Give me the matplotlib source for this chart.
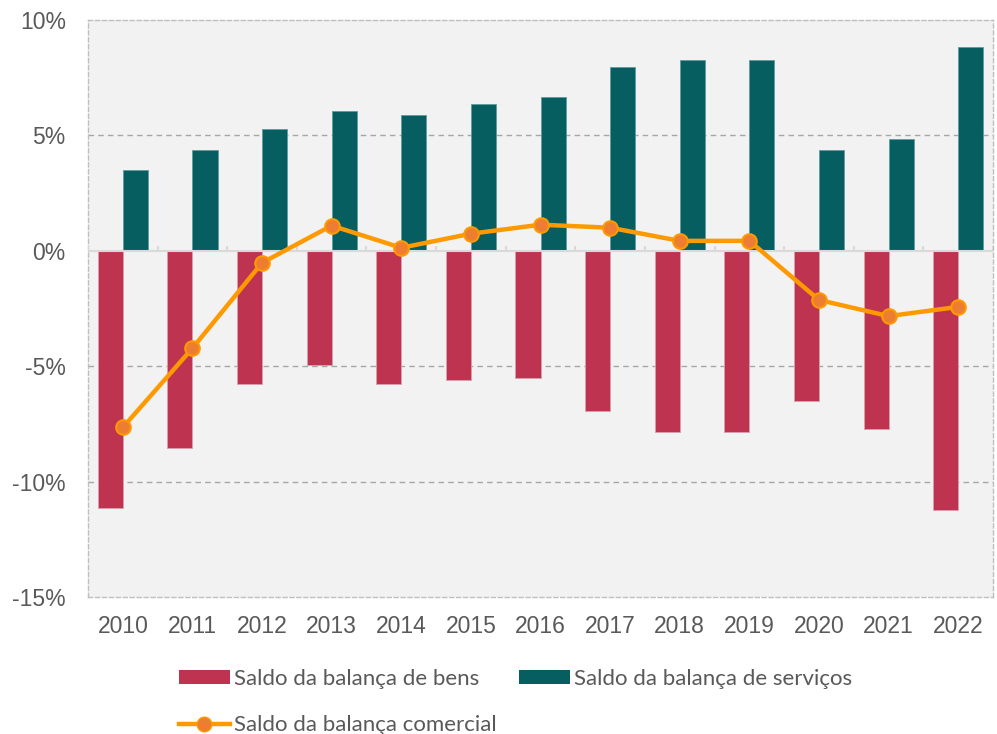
import numpy as np
import matplotlib
matplotlib.use("Agg")
from matplotlib import pyplot as plt
from matplotlib.lines import Line2D
from matplotlib.patches import Patch

plt.rcParams["font.family"] = ["Liberation Sans", "DejaVu Sans"]

years = ["2010", "2011", "2012", "2013", "2014", "2015", "2016",
         "2017", "2018", "2019", "2020", "2021", "2022"]
bens = [-11.15, -8.55, -5.78, -4.96, -5.78, -5.6, -5.52,
        -6.96, -7.83, -7.83, -6.52, -7.7, -11.25]
servicos = [3.48, 4.35, 5.26, 6.04, 5.9, 6.35, 6.65,
            7.96, 8.26, 8.26, 4.35, 4.83, 8.83]
comercial = [-7.65, -4.22, -0.52, 1.09, 0.13, 0.74, 1.13,
             1.0, 0.43, 0.43, -2.13, -2.83, -2.43]
yticks = [-15, -10, -5, 0, 5, 10]

red = "#be3350"
teal = "#065e60"
orange = "#ff9900"
marker_face = "#ed7d31"
txt = "#595959"

fig = plt.figure(figsize=(9.97, 7.34), dpi=100)
ax = fig.add_axes([0.0883, 0.1866, 0.9077, 0.7862])
ax.set_facecolor("#f2f2f2")

x = np.arange(len(years))
w = 0.36
ax.bar(x - w / 2, bens, w, color=red, edgecolor="#d9a0ac", linewidth=0.6, zorder=3)
ax.bar(x + w / 2, servicos, w, color=teal, edgecolor="#5e9c9e", linewidth=0.6, zorder=3)
ax.plot(x, comercial, color=orange, lw=3.2, marker="o", ms=10.5,
        mfc=marker_face, mec=orange, mew=1.5, zorder=5)

# zero line with small category ticks
ax.axhline(0, color="#d9d9d9", lw=1.5, zorder=4)
ax.vlines(np.arange(len(years) + 1) - 0.5, 0, 0.2, color="#d9d9d9", lw=1.5, zorder=4)

ax.set_xlim(-0.5, len(years) - 0.5)
ax.set_ylim(-15, 10)
ax.set_yticks(yticks)
ax.set_yticklabels([f"{v}%" for v in yticks])
ax.set_xticks(x)
ax.set_xticklabels(years)
for v in [-10, -5, 5]:
    ax.axhline(v, color="#a6a6a6", lw=1, ls=(0, (4, 3)), zorder=1)
for s in ax.spines.values():
    s.set_color("#bfbfbf")
    s.set_linestyle((0, (3, 2)))
    s.set_linewidth(1)
ax.tick_params(axis="both", length=0, labelsize=16.5, labelcolor=txt)
ax.tick_params(axis="y", pad=16)
ax.tick_params(axis="x", pad=13)

handles = [
    Patch(facecolor=red, label="Saldo da balança de bens"),
    Line2D([], [], color=orange, lw=3.2, marker="o", ms=10.5, mfc=marker_face,
           mec=orange, label="Saldo da balança comercial"),
    Patch(facecolor=teal, label="Saldo da balança de serviços"),
]
fig.legend(handles=handles, loc="upper left", bbox_to_anchor=(0.159, 0.116),
           ncol=2, frameon=False, handlelength=2.3, handleheight=0.6,
           handletextpad=0.2, columnspacing=1.0, labelspacing=1.18,
           prop={"family": "Lato", "size": 16}, labelcolor=txt)

fig.savefig("out.png", dpi=100)
